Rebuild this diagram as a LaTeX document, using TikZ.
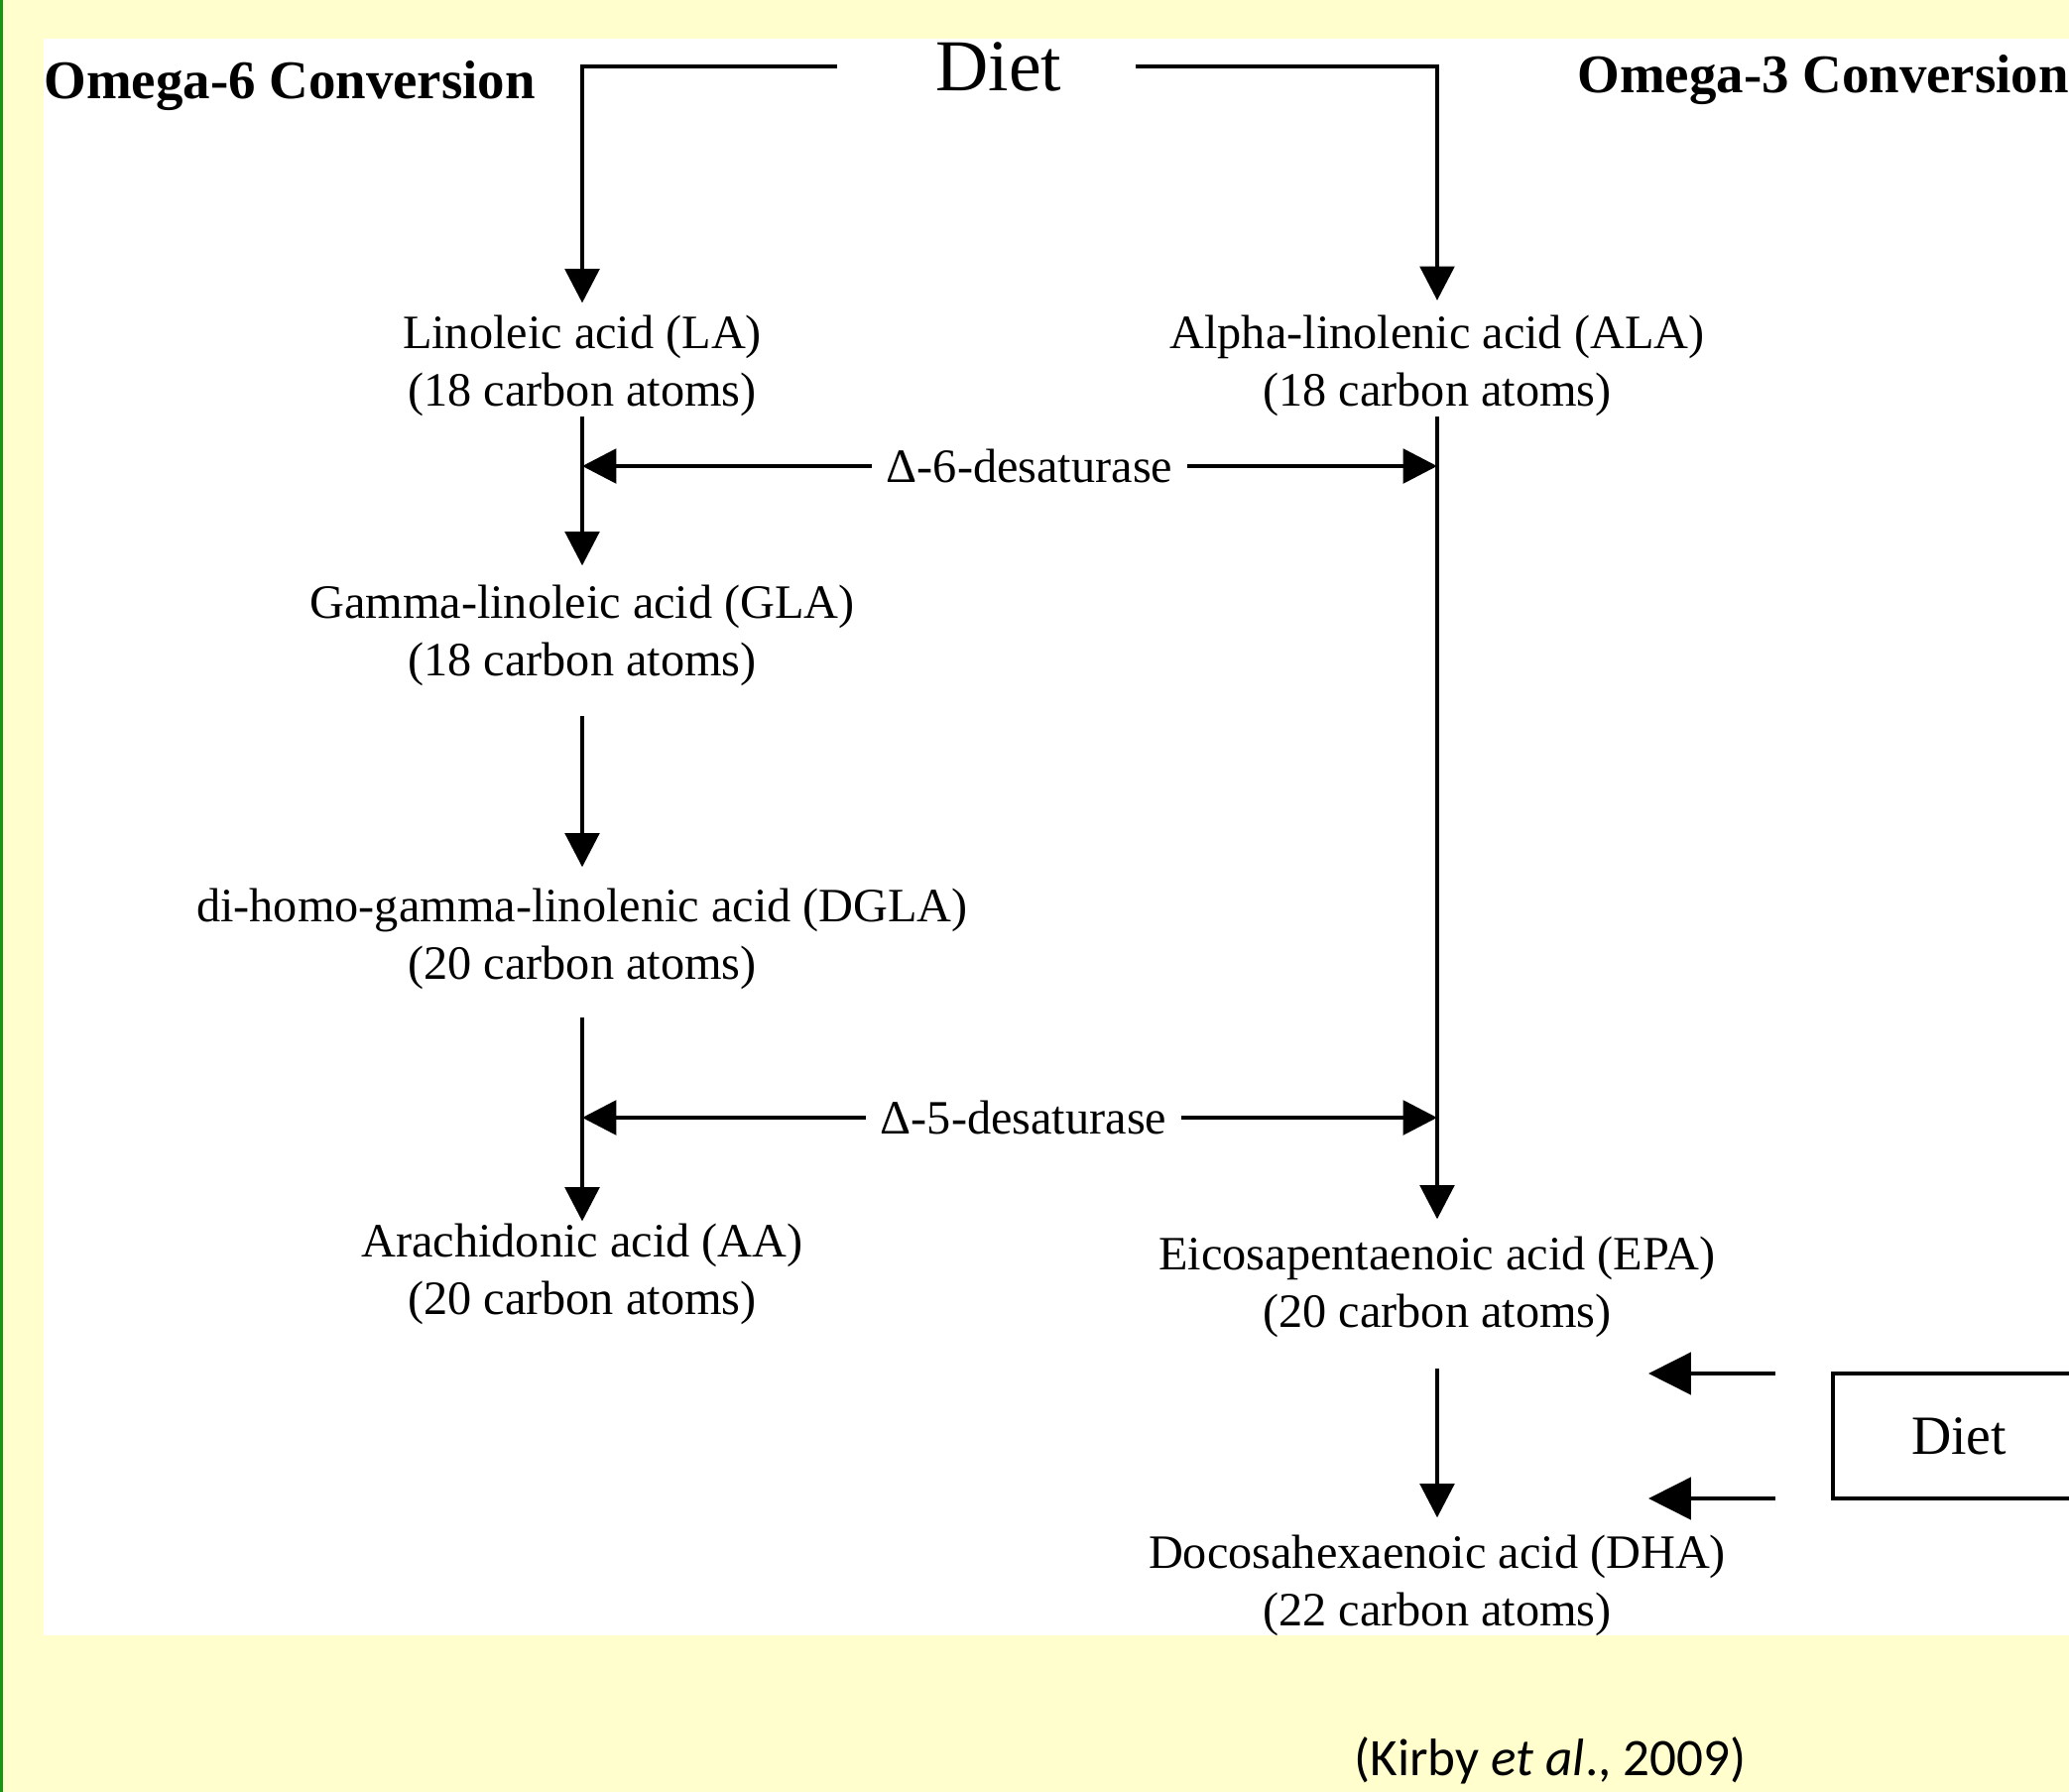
\documentclass[tikz,border=0pt]{standalone}
\usepackage{fontspec}
\setmainfont{Liberation Serif}
\newfontfamily\calib{Carlito}
\usetikzlibrary{arrows.meta,calc}
\definecolor{bgyel}{RGB}{255,254,204}
\definecolor{bordgreen}{RGB}{20,150,20}
\begin{document}
\begin{tikzpicture}[x=0.35pt,y=-0.35pt,
  acid/.style={inner sep=0pt, align=center, font=\fontsize{16.9}{20.3}\selectfont},
  hdr/.style={inner sep=0pt, font=\bfseries\fontsize{19.2}{23}\selectfont},
  enz/.style={inner xsep=5pt, inner ysep=0pt, font=\fontsize{16.9}{20.3}\selectfont},
  conn/.style={line width=1.6pt},
  arr/.style={conn, -{Triangle[length=12pt,width=12pt]}},
  bigarr/.style={conn, -{Triangle[length=15pt,width=14.7pt]}},
]
\useasboundingbox (0,0) rectangle (2086,1807);
\fill[bgyel] (0,0) rectangle (2086,1807);
\fill[white] (44,39) rectangle (2086,1649);
\fill[bordgreen] (0,0) rectangle (3,1807);

% headings
\node[hdr, anchor=base west] (om6) at (44,99) {Omega-6 Conversion};
\node[hdr, anchor=base west] (om3) at (1590,93) {Omega-3 Conversion};
\node[inner sep=0pt, font=\fontsize{25.8}{30}\selectfont, anchor=base] (diettop) at (1007,91) {Diet};

% omega-6 column (anchor = baseline of second line)
\node[acid, anchor=base] (la) at (587,409) {Linoleic acid (LA)\\(18 carbon atoms)};
\node[acid, anchor=base] (gla) at (587,681) {Gamma-linoleic acid (GLA)\\(18 carbon atoms)};
\node[acid, anchor=base] (dgla) at (587,987) {di-homo-gamma-linolenic acid (DGLA)\\(20 carbon atoms)};
\node[acid, anchor=base] (aa) at (587,1325) {Arachidonic acid (AA)\\(20 carbon atoms)};

% omega-3 column
\node[acid, anchor=base] (ala) at (1449,409) {Alpha-linolenic acid (ALA)\\(18 carbon atoms)};
\node[acid, anchor=base] (epa) at (1449,1338) {Eicosapentaenoic acid (EPA)\\(20 carbon atoms)};
\node[acid, anchor=base] (dha) at (1449,1639) {Docosahexaenoic acid (DHA)\\(22 carbon atoms)};

% enzymes
\node[enz] (d6) at (1038,470) {Δ-6-desaturase};
\node[enz] (d5) at (1032,1127) {Δ-5-desaturase};

% diet box
\node[draw, line width=1.6pt, inner sep=0pt, outer sep=0pt, minimum width=88.9pt, minimum height=44.1pt,
      font=\fontsize{19.5}{23}\selectfont] (dietbox) at (1975,1448) {Diet};
\coordinate (ds1) at ($(dietbox.north west)+(-58,0)$);
\coordinate (ds2) at ($(dietbox.south west)+(-58,0)$);
\coordinate (dt1) at ($(ds1)+(-128,0)$);
\coordinate (dt2) at ($(ds2)+(-128,0)$);

% connectors from top diet
\draw[arr, shorten >=4pt] ($(diettop.west)+(-99,0)$) -| (la.north);
\draw[arr, shorten >=4.9pt] ($(diettop.east)+(74,0)$) -| (ala.north);

% omega-6 chain
\draw[arr, shorten >=6.5pt] (la.south) -- (gla.north);
\draw[arr, shorten <=10.7pt, shorten >=7.2pt] (gla.south) -- (dgla.north);
\draw[arr, shorten <=10pt, shorten >=0.5pt] (dgla.south) -- (aa.north);

% omega-3 chain
\draw[arr, shorten >=5.8pt] (ala.south) -- (epa.north);
\draw[arr, shorten <=11pt, shorten >=5.8pt] (epa.south) -- (dha.north);

% enzyme arrows
\draw[arr] (d6.west) -- (d6.west -| la.south);
\draw[arr] (d6.east) -- (d6.east -| ala.south);
\draw[arr] (d5.west) -- (d5.west -| la.south);
\draw[arr] (d5.east) -- (d5.east -| ala.south);

% diet box arrows
\draw[bigarr] (ds1) -- (dt1);
\draw[bigarr] (ds2) -- (dt2);

% citation
\node[inner sep=0pt, font=\calib\fontsize{18.6}{22}\selectfont, anchor=base] (cite) at (1563,1790) {(Kirby \textit{et al}., 2009)};
\end{tikzpicture}
\end{document}
